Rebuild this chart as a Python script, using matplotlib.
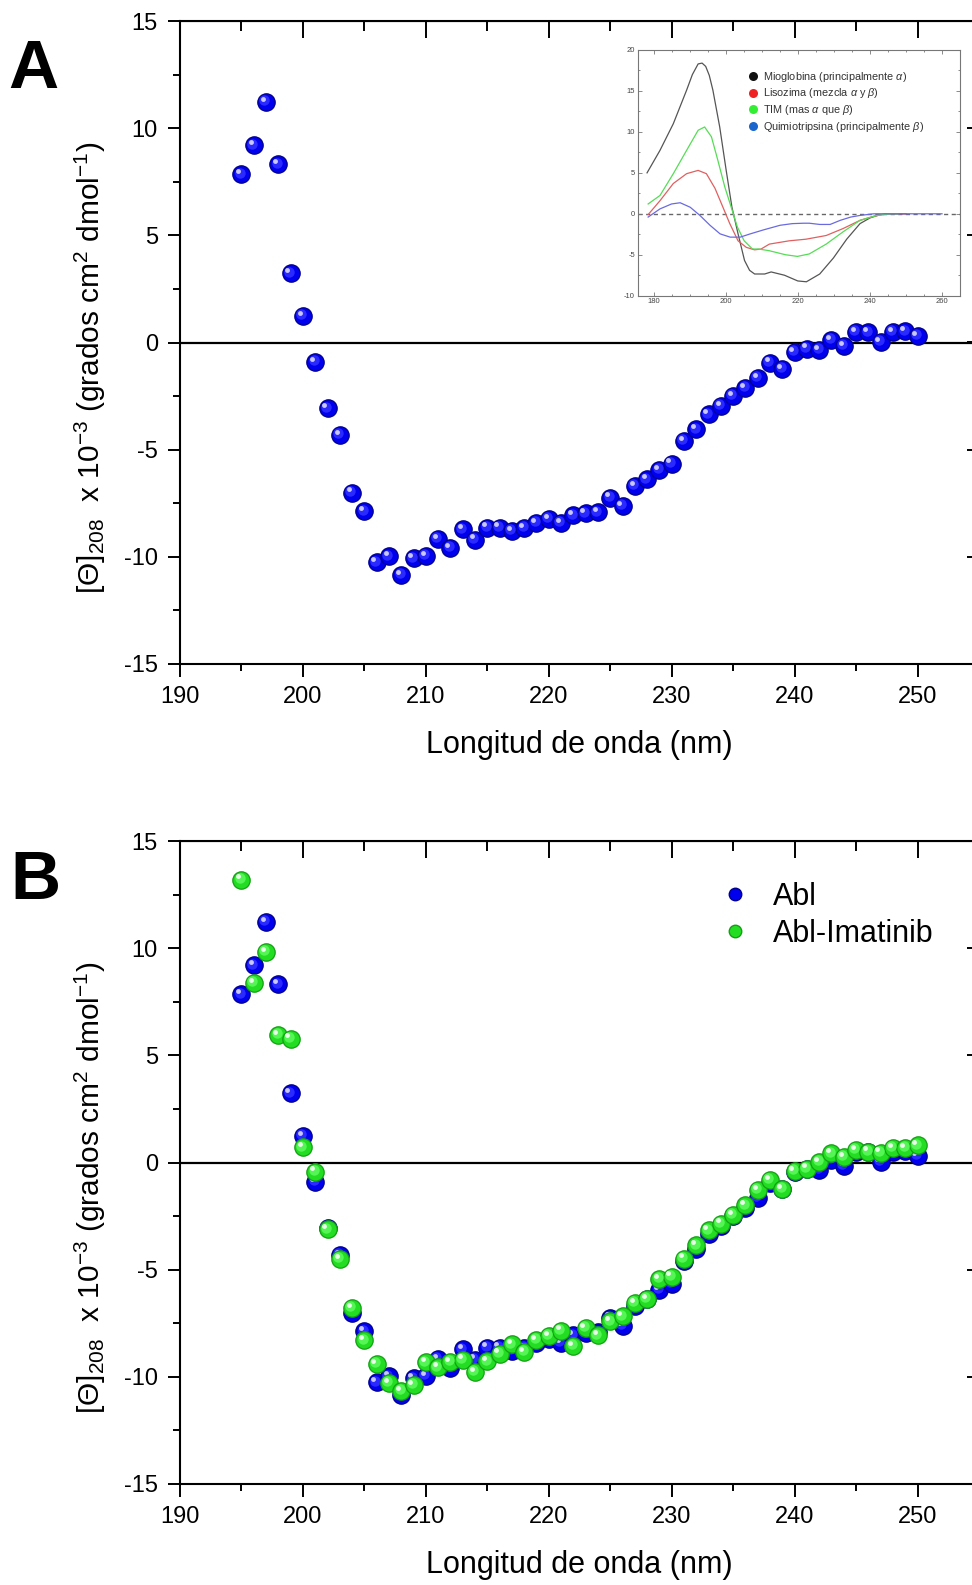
import matplotlib
matplotlib.use('Agg')
import matplotlib.pyplot as plt
from matplotlib.lines import Line2D
from matplotlib.transforms import offset_copy
from matplotlib.ticker import MultipleLocator

plt.rcParams['font.family'] = ['Liberation Sans', 'DejaVu Sans']
plt.rcParams['mathtext.fontset'] = 'custom'
plt.rcParams['mathtext.rm'] = 'Liberation Sans'
plt.rcParams['mathtext.it'] = 'Liberation Sans:italic'
plt.rcParams['axes.unicode_minus'] = False

# Datos de dicroismo circular (Abl y Abl-Imatinib)
wl = list(range(195, 251))
abl = [7.85, 9.2, 11.22, 8.31, 3.23, 1.24, -0.9, -3.07, -4.31, -7.0,
       -7.88, -10.26, -9.98, -10.84, -10.07, -9.95, -9.17, -9.59, -8.72, -9.2,
       -8.64, -8.64, -8.8, -8.66, -8.42, -8.24, -8.42, -8.06, -7.97, -7.93,
       -7.24, -7.62, -6.69, -6.39, -5.95, -5.65, -4.59, -4.05, -3.35, -2.96,
       -2.5, -2.13, -1.66, -0.94, -1.23, -0.44, -0.28, -0.34, 0.12, -0.16,
       0.5, 0.48, 0.02, 0.5, 0.52, 0.3]
abl_imatinib = [13.2, 8.38, 9.83, 5.95, 5.78, 0.7, -0.42, -3.12, -4.5, -6.78,
                -8.3, -9.4, -10.28, -10.66, -10.38, -9.32, -9.56, -9.3, -9.2, -9.78,
                -9.27, -8.92, -8.48, -8.84, -8.27, -8.1, -7.84, -8.56, -7.72, -8.07,
                -7.41, -7.18, -6.56, -6.37, -5.43, -5.32, -4.48, -3.86, -3.16, -2.85,
                -2.44, -2.0, -1.28, -0.82, -1.23, -0.39, -0.28, 0.03, 0.43, 0.26,
                0.59, 0.51, 0.46, 0.69, 0.69, 0.8]

# Espectros de referencia (recuadro)
mio_wl = [178, 181.6, 185.3, 189, 190.6, 192.2, 193.3, 194.3, 195.3, 196.3, 198.2,
          200, 201.6, 203.3, 205.1, 206.5, 207.9, 210.7, 212.5, 216.2, 219.9, 222.3,
          226, 229.8, 233.5, 237.2, 240, 242.8, 245, 250]
mio = [5.0, 7.75, 11.0, 15.1, 17.0, 18.3, 18.4, 18.0, 16.9, 15.1, 10.6,
       5.3, 0.8, -2.45, -5.7, -6.9, -7.35, -7.35, -7.1, -7.5, -8.2, -8.3,
       -7.35, -5.4, -3.1, -1.2, -0.5, -0.1, 0.0, 0.0]
lis_wl = [178.3, 181.6, 185.3, 189, 192.2, 194.5, 196.9, 199.1, 201, 203.3, 205.6,
          207.9, 209.7, 212, 217.5, 222.2, 227.8, 232.5, 237.2, 241, 244.7, 250]
lis = [-0.1, 1.6, 3.7, 4.9, 5.3, 4.9, 3.1, 0.8, -1.2, -3.3, -4.1,
       -4.4, -4.3, -3.7, -3.3, -3.1, -2.65, -1.8, -0.8, -0.3, 0.0, 0.0]
tim_wl = [178.3, 181.6, 185.3, 189, 192.2, 194, 195.9, 197.7, 199.6, 201.4, 203.1,
          205, 207.3, 209, 211.9, 216.5, 219.8, 223.1, 227.8, 232.5, 237.2, 241.9,
          245.7, 248]
tim = [1.2, 2.24, 4.9, 7.75, 10.2, 10.6, 9.4, 6.5, 3.3, 0.8, -1.6,
       -3.3, -4.3, -4.3, -4.5, -5.0, -5.2, -4.9, -3.7, -2.2, -0.8, -0.2,
       0.0, 0.0]
qui_wl = [178.3, 181.6, 184.8, 187.2, 190, 192.7, 195.5, 198.3, 201.1, 203.9, 206.7,
          210.4, 215, 218.4, 221.5, 223.1, 226, 228.9, 231.7, 234.6, 237.2, 241, 260]
qui = [-0.4, 0.6, 1.2, 1.35, 0.8, -0.2, -1.4, -2.45, -2.85, -2.85, -2.45,
       -1.96, -1.4, -1.2, -1.15, -1.15, -1.3, -1.3, -0.8, -0.4, -0.2, 0.0, 0.0]

W, H = 972, 1585
fig = plt.figure(figsize=(W / 100, H / 100), dpi=100)


def spheres(ax, x, y, base, dark, mid, light, ms=12.5, z=3):
    # esfera con brillo: borde oscuro, relleno, brillo arriba-izquierda
    ax.plot(x, y, 'o', ms=ms, mfc=base, mec=dark, mew=0.9, ls='none', zorder=z)
    t1 = offset_copy(ax.transData, fig=ax.figure, x=-1.2, y=1.2, units='points')
    ax.plot(x, y, 'o', ms=ms * 0.6, mfc=mid, mec='none', ls='none',
            transform=t1, zorder=z + 0.1)
    t2 = offset_copy(ax.transData, fig=ax.figure, x=-2.3, y=2.3, units='points')
    ax.plot(x, y, 'o', ms=ms * 0.28, mfc=light, mec='none', ls='none',
            transform=t2, zorder=z + 0.2)


BLUE = ('#0000ee', '#00008a', '#2a2aff', '#c8c8ff')
GREEN = ('#22dd22', '#13a013', '#55f555', '#e8ffe8')


def setup(ax):
    ax.set_xlim(190, 255)
    ax.set_ylim(-15, 15)
    ax.xaxis.set_major_locator(MultipleLocator(10))
    ax.xaxis.set_minor_locator(MultipleLocator(5))
    ax.yaxis.set_major_locator(MultipleLocator(5))
    ax.yaxis.set_minor_locator(MultipleLocator(2.5))
    ax.tick_params(which='both', direction='out', width=1.4, labelsize=17,
                   top=False, right=False)
    ax.tick_params(which='major', length=9, pad=7)
    ax.tick_params(which='minor', length=5)
    for s in ax.spines.values():
        s.set_linewidth(1.5)
    # marcas espejo hacia dentro arriba y a la derecha
    sx = ax.secondary_xaxis('top')
    sx.xaxis.set_major_locator(MultipleLocator(10))
    sx.xaxis.set_minor_locator(MultipleLocator(5))
    sx.tick_params(which='both', direction='in', width=1.4, labeltop=False)
    sx.tick_params(which='major', length=12)
    sx.tick_params(which='minor', length=7)
    sy = ax.secondary_yaxis('right')
    sy.yaxis.set_major_locator(MultipleLocator(5))
    sy.yaxis.set_minor_locator(MultipleLocator(2.5))
    sy.tick_params(which='both', direction='in', width=1.4, labelright=False)
    sy.tick_params(which='major', length=9)
    sy.tick_params(which='minor', length=5)
    ax.axhline(0, color='black', lw=1.6, zorder=2)
    ax.set_xlabel('Longitud de onda (nm)', fontsize=22)
    ax.set_ylabel(r'[$\Theta$]$_{208}$  x 10$^{-3}$ (grados cm$^{2}$ dmol$^{-1}$)',
                  fontsize=21.5)
    ax.xaxis.set_label_coords(0.5, -0.102)
    ax.yaxis.set_label_coords(-0.09, 0.46)


ax_w = (979 - 180) / W
ax_h = (664 - 21) / H

# Panel A
axA = fig.add_axes([180 / W, 1 - 664 / H, ax_w, ax_h])
setup(axA)
spheres(axA, wl, abl, *BLUE)

# Recuadro con espectros de referencia
axI = fig.add_axes([637.7 / W, 1 - 295.7 / H, (960 - 637.7) / W, (295.7 - 50) / H])
axI.set_xlim(175.4, 265)
axI.set_ylim(-10, 20)
axI.axhline(0, color='#666666', lw=1.0, ls=(0, (3, 2.5)), zorder=1)
axI.plot(mio_wl, mio, color='#555555', lw=0.9, zorder=2)
axI.plot(lis_wl, lis, color='#e06060', lw=0.9, zorder=3)
axI.plot(tim_wl, tim, color='#55dd55', lw=0.9, zorder=4)
axI.plot(qui_wl, qui, color='#6a6ae0', lw=0.9, zorder=5)
axI.set_xticks([180, 200, 220, 240, 260])
axI.set_yticks([-10, -5, 0, 5, 10, 15, 20])
axI.xaxis.set_minor_locator(MultipleLocator(5))
axI.yaxis.set_minor_locator(MultipleLocator(2.5))
axI.tick_params(which='both', direction='in', top=True, right=True,
                labelsize=5.5, labelcolor='#444444', color='#777777', width=0.6)
axI.tick_params(which='major', length=3, pad=2)
axI.tick_params(which='minor', length=1.5)
for s in axI.spines.values():
    s.set_linewidth(0.8)
    s.set_color('#777777')
inset_handles = [
    Line2D([], [], marker='o', ls='none', ms=6.5, mfc='#111111', mec='none'),
    Line2D([], [], marker='o', ls='none', ms=6.5, mfc='#ee2222', mec='none'),
    Line2D([], [], marker='o', ls='none', ms=6.5, mfc='#33ee33', mec='none'),
    Line2D([], [], marker='o', ls='none', ms=6.5, mfc='#1a66cc', mec='none'),
]
inset_labels = [r'Mioglobina (principalmente $\alpha$)',
                r'Lisozima (mezcla $\alpha$ y $\beta$)',
                r'TIM (mas $\alpha$ que $\beta$)',
                r'Quimiotripsina (principalmente $\beta$)']
legI = axI.legend(inset_handles, inset_labels, loc='upper left',
                  bbox_to_anchor=(0.345, 0.92), frameon=False, fontsize=7.8,
                  handlelength=0.8, handletextpad=0.5, labelspacing=0.25,
                  borderaxespad=0, borderpad=0)
for t in legI.get_texts():
    t.set_color('#333333')

# Panel B
axB = fig.add_axes([180 / W, 1 - 1484 / H, ax_w, ax_h])
setup(axB)
spheres(axB, wl, abl, *BLUE, z=3)
spheres(axB, wl, abl_imatinib, *GREEN, z=4)
handles = [Line2D([], [], marker='o', ls='none', ms=9, mfc=BLUE[0], mec=BLUE[1]),
           Line2D([], [], marker='o', ls='none', ms=9, mfc=GREEN[0], mec=GREEN[1])]
axB.legend(handles, ['Abl', 'Abl-Imatinib'], loc='upper left',
           bbox_to_anchor=(0.66, 0.955), frameon=False, fontsize=22,
           handlelength=1.0, handletextpad=0.75, labelspacing=0.22,
           borderaxespad=0)

# Letras de panel
fig.text(8 / W, 1 - 88 / H, 'A', fontsize=50, fontweight='bold', va='baseline')
fig.text(10 / W, 1 - 899 / H, 'B', fontsize=50, fontweight='bold', va='baseline')

fig.savefig('out.png', dpi=100)
